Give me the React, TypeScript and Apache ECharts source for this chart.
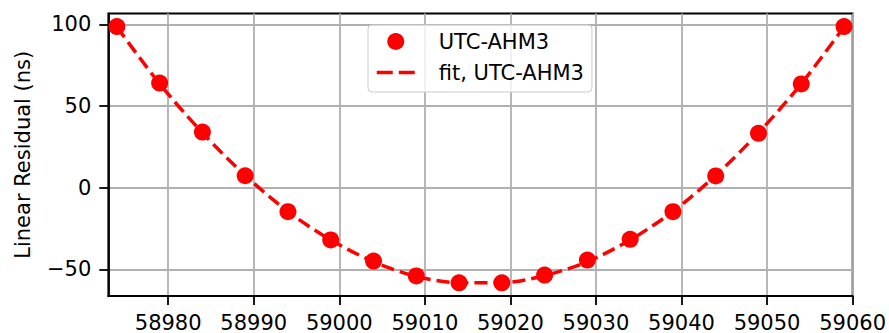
import React, { useEffect, useRef } from "react";
import * as echarts from "echarts";

// MJD epochs of the residual samples
const mjd = [58974, 58979, 58984, 58989, 58994, 58999, 59004, 59009, 59014, 59019, 59024, 59029, 59034, 59039, 59044, 59049, 59054, 59059];
// Linear residuals of UTC-AHM3 (ns)
const residual = [98.6, 64.0, 34.0, 7.3, -14.7, -32.0, -44.9, -54.0, -58.2, -58.2, -53.5, -44.3, -31.6, -14.7, 7.2, 33.3, 63.5, 98.6];
// Quadratic fit evaluated at the same epochs (ns)
const fitValues = [98.4, 63.6, 33.6, 7.5, -14.6, -32.0, -45.3, -54.3, -58.2, -58.2, -53.8, -45.3, -32.0, -14.6, 7.5, 33.6, 63.6, 98.4];
// Tick values
const xTicks = [58980, 58990, 59000, 59010, 59020, 59030, 59040, 59050, 59060];
const yTicks = [-50, 0, 50, 100];

const FONT = "DejaVu Sans";
const RED = "#ff0000";

// typographic minus for negative tick labels
const fmt = (v: number) => String(v).replace("-", "\u2212");

export default function App() {
  const ref = useRef<HTMLDivElement>(null);
  useEffect(() => {
    if (!ref.current) return;
    document.body.style.margin = "0";
    document.body.style.overflow = "hidden";
    const chart = echarts.init(ref.current, undefined, { renderer: "svg" });
    const gridLine = { show: true, lineStyle: { color: "#b0b0b0", width: 1.8 } };
    const axisLine = { show: true, onZero: false, lineStyle: { color: "#000", width: 1.8 } };
    const label = { color: "#000", fontFamily: FONT, fontSize: 21 };
    chart.setOption({
      animation: false,
      grid: {
        left: 108.3,
        right: 35.7,
        top: 13.5,
        bottom: 37,
        show: true,
        borderColor: "#000",
        borderWidth: 1.8,
        backgroundColor: "transparent",
      },
      xAxis: {
        type: "value",
        min: 58973,
        max: 59060,
        axisLine,
        axisTick: { show: true, inside: false, length: 9, customValues: xTicks, lineStyle: { color: "#000", width: 1.8 } },
        axisLabel: { ...label, customValues: xTicks, margin: 16, formatter: fmt },
        splitLine: gridLine,
      },
      yAxis: {
        type: "value",
        min: -66.3,
        max: 106.6,
        name: "Linear Residual (ns)",
        nameLocation: "middle",
        nameGap: 75,
        nameTextStyle: { ...label },
        axisLine,
        axisTick: { show: true, inside: false, length: 9, customValues: yTicks, lineStyle: { color: "#000", width: 1.8 } },
        axisLabel: { ...label, customValues: yTicks, margin: 17, formatter: fmt },
        splitLine: gridLine,
      },
      legend: {
        orient: "vertical",
        left: 368,
        top: 25,
        padding: [6, 8, 9, 7],
        itemGap: 10,
        itemWidth: 38,
        itemHeight: 17,
        backgroundColor: "rgba(255,255,255,0.8)",
        borderColor: "#cccccc",
        borderWidth: 1,
        borderRadius: 4,
        textStyle: { ...label, lineHeight: 21, padding: [0, 0, 0, 19] },
        data: [
          { name: "UTC-AHM3", icon: "circle", itemStyle: { color: RED, opacity: 1 } },
          { name: "fit, UTC-AHM3", itemStyle: { opacity: 0 }, lineStyle: { color: RED, width: 3.5, type: [16, 6] } },
        ],
      },
      series: [
        {
          name: "fit, UTC-AHM3",
          type: "line",
          data: mjd.map((x, i) => [x, fitValues[i]]),
          symbol: "none",
          smooth: 0.3,
          lineStyle: { color: RED, width: 3.5, type: [13, 6] },
          itemStyle: { color: RED },
          z: 3,
        },
        {
          name: "UTC-AHM3",
          type: "scatter",
          data: mjd.map((x, i) => [x, residual[i]]),
          symbol: "circle",
          symbolSize: 17,
          itemStyle: { color: RED, opacity: 1 },
          z: 4,
        },
      ],
    });
    return () => chart.dispose();
  }, []);
  return <div ref={ref} style={{ width: 889, height: 333 }} />;
}
